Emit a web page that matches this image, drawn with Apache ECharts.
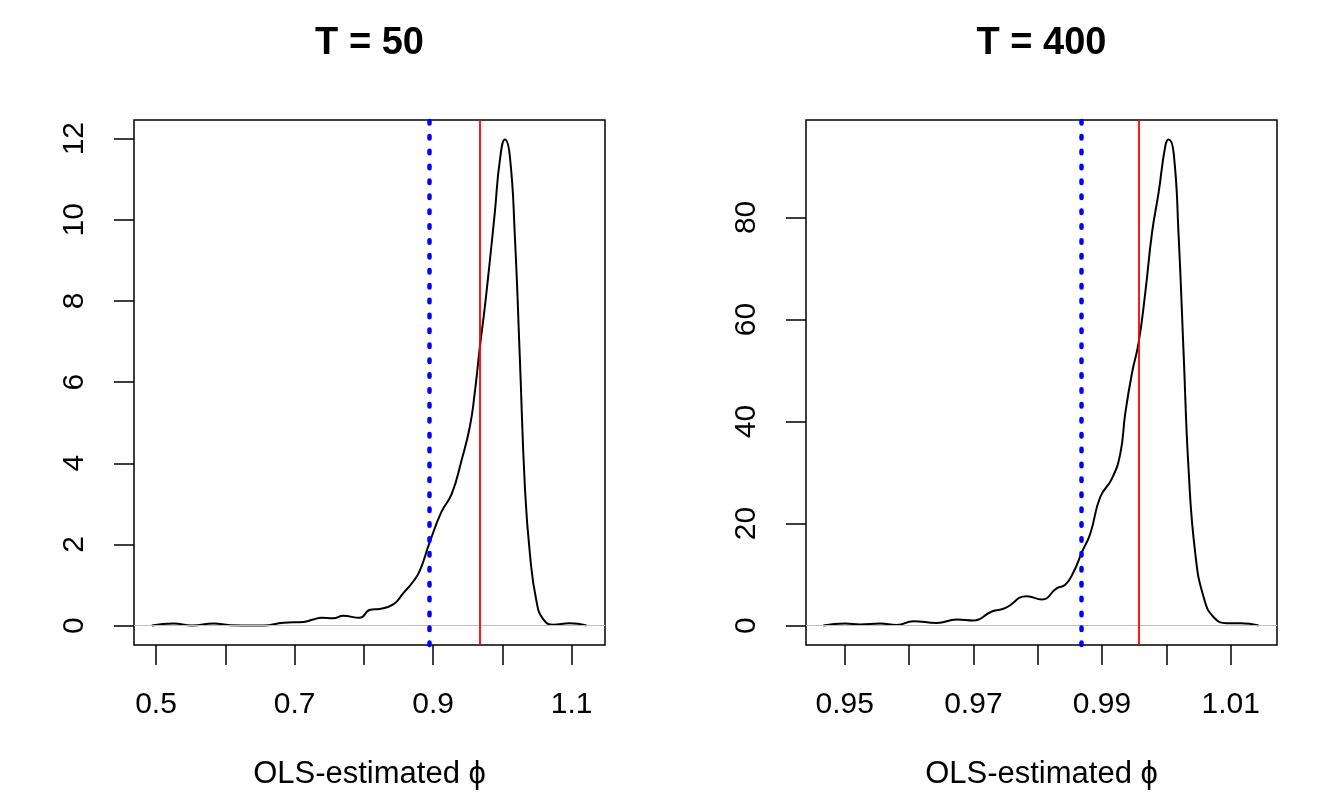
<!DOCTYPE html>
<html>
<head>
<meta charset="utf-8">
<script src="https://cdn.jsdelivr.net/npm/echarts@6/dist/echarts.min.js"></script>
<style>
html,body{margin:0;padding:0;background:#fff;}
#chart{width:1344px;height:806px;}
</style>
</head>
<body>
<div id="chart"></div>
<script>
// ---- data ----
const panelTitles = ['T = 50', 'T = 400'];
const xAxisTitle = 'OLS-estimated \u03d5';

// T = 50 density of OLS-estimated phi
const t50Phi = [0.494,0.525,0.552,0.583,0.607,0.643,0.655,0.684,0.713,0.727,0.739,0.756,0.770,0.794,0.809,0.823,0.843,0.857,0.871,0.881,0.895,0.912,0.927,0.941,0.953,0.960,0.9675,0.9747,0.982,0.989,0.9964,1.0036,1.0108,1.018,1.0253,1.0325,1.0397,1.0494,1.0589,1.0733,1.097,1.1215];
const t50Density = [0,0.05,0,0.05,0.01,0,0,0.07,0.09,0.15,0.19,0.18,0.24,0.19,0.39,0.41,0.53,0.80,1.08,1.36,2.05,2.80,3.25,4.07,4.90,5.72,6.87,7.86,9.01,10.17,11.48,11.98,11.56,9.59,6.54,3.41,1.77,0.58,0.16,0.02,0.06,0];

// T = 400 density of OLS-estimated phi
const t400Phi = [0.94667,0.95005,0.95238,0.95549,0.95809,0.96067,0.96431,0.96743,0.97001,0.97287,0.97494,0.97832,0.98065,0.98299,0.98428,0.98557,0.98688,0.98817,0.98972,0.99154,0.99284,0.99361,0.99466,0.99568,0.99672,0.99777,0.99880,0.99984,1.00035,1.00113,1.00191,1.00268,1.00346,1.00450,1.00580,1.00736,1.00944,1.01151,1.01436];
const t400Density = [0,0.39,0.2,0.39,0.13,0.85,0.52,1.18,0.98,2.75,3.41,5.77,5.11,7.34,8.0,10.5,14.4,18.0,25.2,28.8,33.7,41.6,49.5,55.4,65.2,77.0,84.9,94.0,95.3,92.7,76.3,53.4,30.5,14.1,5.56,1.63,0.46,0.46,0];

// reference lines: blue dotted, red solid
const blueLine = [0.894, 0.98677];
const redLine = [0.967, 0.99568];

// axis ranges and ticks
const xRanges = [[0.46825, 1.1481], [0.94398, 1.0172]];
const yRanges = [[-0.479, 12.46], [-3.81, 99.1]];
const xTicks = [[0.5,0.6,0.7,0.8,0.9,1.0,1.1],[0.95,0.96,0.97,0.98,0.99,1.00,1.01]];
const xTickLabels = [[0.5,0.7,0.9,1.1],[0.95,0.97,0.99,1.01]];
const xLabelDigits = [1, 2];
const yTicks = [[0,2,4,6,8,10,12],[0,20,40,60,80]];

// ---- chart ----
const FONT = '"Liberation Sans", Arial, Helvetica, sans-serif';
const chart = echarts.init(document.getElementById('chart'), null, {renderer: 'canvas'});

const grids = [
  {left: 134, top: 120, width: 471, height: 525},
  {left: 806, top: 120, width: 471, height: 525}
];

const option = {
  backgroundColor: '#ffffff',
  animation: false,
  title: panelTitles.map((t, i) => ({
    text: t,
    left: grids[i].left + grids[i].width / 2,
    textAlign: 'center',
    top: 25,
    padding: 0,
    textStyle: {fontFamily: FONT, fontWeight: 'bold', fontSize: 38, color: '#000'}
  })),
  grid: grids.map(g => Object.assign({show: true, borderColor: '#000', borderWidth: 1.5, backgroundColor: 'transparent', containLabel: false}, g)),
  xAxis: [0, 1].map(i => ({
    type: 'value',
    gridIndex: i,
    position: 'bottom',
    min: xRanges[i][0],
    max: xRanges[i][1],
    name: xAxisTitle,
    nameLocation: 'middle',
    nameGap: 114,
    nameTextStyle: {fontFamily: FONT, fontSize: 31, color: '#000'},
    axisLine: {show: false, onZero: false},
    splitLine: {show: false},
    axisTick: {show: true, inside: false, length: 20, customValues: xTicks[i], lineStyle: {color: '#000', width: 1.5}},
    axisLabel: {show: true, inside: false, margin: 45, customValues: xTickLabels[i], fontFamily: FONT, fontSize: 30, color: '#000',
      formatter: v => Number(v).toFixed(xLabelDigits[i])}
  })),
  yAxis: [0, 1].map(i => ({
    type: 'value',
    gridIndex: i,
    position: 'left',
    min: yRanges[i][0],
    max: yRanges[i][1],
    axisLine: {show: false, onZero: false},
    splitLine: {show: false},
    axisTick: {show: true, inside: false, length: 20, customValues: yTicks[i], lineStyle: {color: '#000', width: 1.5}},
    axisLabel: {show: true, inside: false, rotate: 90, margin: 44, customValues: yTicks[i], fontFamily: FONT, fontSize: 30, color: '#000'}
  })),
  series: []
};

const phis = [t50Phi, t400Phi];
const dens = [t50Density, t400Density];
for (let i = 0; i < 2; i++) {
  // zero line (gray)
  option.series.push({
    type: 'line', xAxisIndex: i, yAxisIndex: i, data: [], z: 1,
    markLine: {silent: true, symbol: 'none', precision: 6, label: {show: false},
      lineStyle: {color: '#bebebe', width: 1.2, type: 'solid'},
      data: [{yAxis: 0}]}
  });
  // density curve
  option.series.push({
    type: 'line', xAxisIndex: i, yAxisIndex: i, z: 3,
    data: phis[i].map((x, k) => [x, dens[i][k]]),
    showSymbol: false, smooth: 0.5,
    lineStyle: {color: '#000', width: 2}
  });
  // red solid line
  option.series.push({
    type: 'line', xAxisIndex: i, yAxisIndex: i, data: [], z: 4,
    markLine: {silent: true, symbol: 'none', precision: 6, label: {show: false},
      lineStyle: {color: '#ff0000', width: 1.8, type: 'solid'},
      data: [{xAxis: redLine[i]}]}
  });
  // blue dotted line
  option.series.push({
    type: 'line', xAxisIndex: i, yAxisIndex: i, data: [], z: 4,
    markLine: {silent: true, symbol: 'none', precision: 6, label: {show: false},
      lineStyle: {color: '#0000ff', width: 4.5, type: [2.5, 12.4], cap: 'round'},
      data: [{xAxis: blueLine[i]}]}
  });
}

chart.setOption(option);
</script>
</body>
</html>
